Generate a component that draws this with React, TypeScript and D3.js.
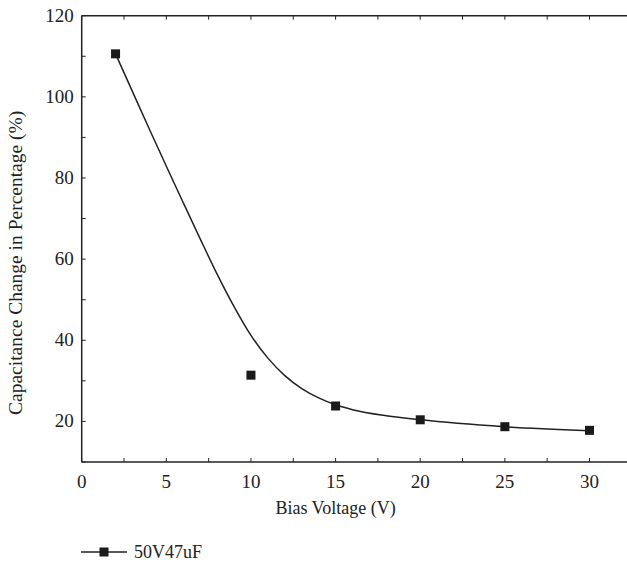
import React from "react";
import * as d3 from "d3";

const voltages = [2, 10, 15, 20, 25, 30];
const capChange = [110.6, 31.4, 23.8, 20.4, 18.7, 17.8];
const fitX = [2, 3, 4, 5, 6, 7, 8, 9, 10, 11, 12, 13, 14, 15, 16, 18, 20, 25, 30];
const fitY = [110.6, 101.3, 92.0, 82.9, 73.9, 65.0, 56.3, 48.3, 41.2, 35.6, 31.3, 28.1, 25.8, 24.1, 22.9, 21.4, 20.4, 18.7, 17.7];
const xTicks = [0, 5, 10, 15, 20, 25, 30];
const yTicks = [20, 40, 60, 80, 100, 120];
const seriesName = "50V47uF";

export default function App() {
  const W = 627, H = 567;
  const left = 81.7, top = 15.7, bottom = 462;
  const x = d3.scaleLinear().domain([0, 30]).range([left, 589.5]);
  const y = d3.scaleLinear().domain([10, 120]).range([bottom, top]);
  const right = W;
  const xMinor = d3.range(0, 32.5, 2.5);
  const yMinor = d3.range(10, 121, 10);
  const line = d3
    .line<number>()
    .x((d, i) => x(fitX[i]))
    .y((d) => y(d))
    .curve(d3.curveMonotoneX);
  const font = "'Liberation Serif', 'Times New Roman', serif";
  const stroke = "#222";
  const ms = 9;
  return (
    <svg width={W} height={H} style={{ position: "absolute", left: 0, top: 0 }} fontFamily={font}>
      <rect width={W} height={H} fill="#fff" />
      <line x1={left} x2={left} y1={top} y2={bottom} stroke={stroke} strokeWidth={1.5} />
      <line x1={left} x2={right} y1={bottom} y2={bottom} stroke={stroke} strokeWidth={1.5} />
      <line x1={left} x2={right} y1={top} y2={top} stroke={stroke} strokeWidth={1.5} />
      {xMinor.map((t) => (
        <g key={"xt" + t}>
          <line x1={x(t)} x2={x(t)} y1={bottom} y2={bottom - 4} stroke={stroke} strokeWidth={1} />
          <line x1={x(t)} x2={x(t)} y1={top} y2={top + 4} stroke={stroke} strokeWidth={1} />
        </g>
      ))}
      {yMinor.map((t) => (
        <line key={"yt" + t} x1={left} x2={left + 4} y1={y(t)} y2={y(t)} stroke={stroke} strokeWidth={1} />
      ))}
      {xTicks.map((t) => (
        <text key={"xl" + t} x={x(t)} y={bottom + 26} textAnchor="middle" fontSize={19} fill="#222">
          {t}
        </text>
      ))}
      {yTicks.map((t) => (
        <text key={"yl" + t} x={left - 8} y={y(t) + 6} textAnchor="end" fontSize={19} fill="#222">
          {t}
        </text>
      ))}
      <text x={(left + 589.5) / 2} y={bottom + 52} textAnchor="middle" fontSize={18} fill="#222">
        Bias Voltage (V)
      </text>
      <text
        transform={`translate(22, ${(top + bottom) / 2 + 24}) rotate(-90)`}
        textAnchor="middle"
        fontSize={19.5}
        fill="#222"
      >
        Capacitance Change in Percentage (%)
      </text>
      <path d={line(fitY) || ""} fill="none" stroke="#222" strokeWidth={1.5} />
      {voltages.map((v, i) => (
        <rect key={"m" + i} x={x(v) - ms / 2} y={y(capChange[i]) - ms / 2} width={ms} height={ms} fill="#1a1a1a" />
      ))}
      <g>
        <line x1={81} x2={127} y1={552} y2={552} stroke="#222" strokeWidth={1.5} />
        <rect x={104 - ms / 2} y={552 - ms / 2} width={ms} height={ms} fill="#1a1a1a" />
        <text x={134} y={558} fontSize={18} fill="#222">
          {seriesName}
        </text>
      </g>
    </svg>
  );
}
